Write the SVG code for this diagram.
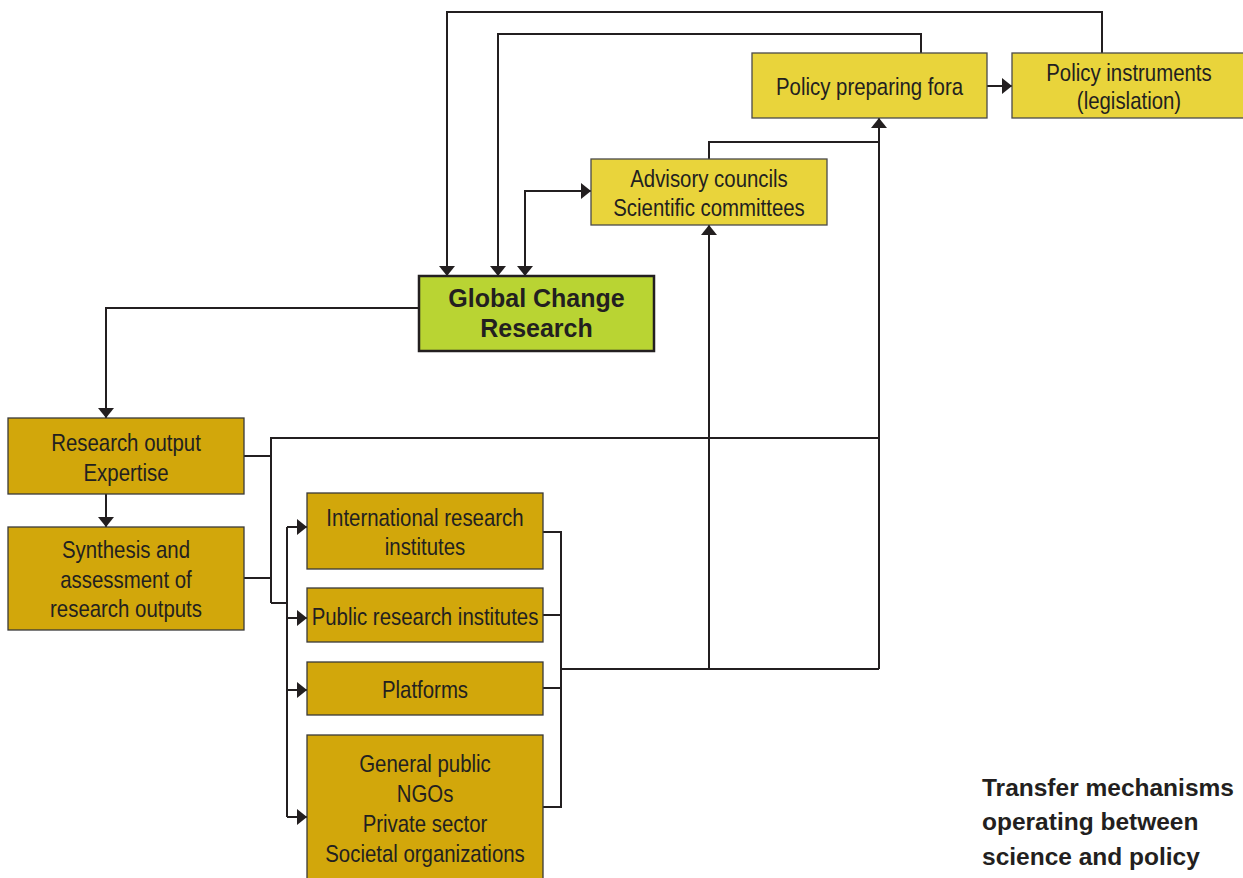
<svg xmlns="http://www.w3.org/2000/svg" width="1243" height="878" viewBox="0 0 1243 878">
<style>
.yb{fill:#e9d43b;stroke:#4a4a4a;stroke-width:1.3}
.gb{fill:#d2a70b;stroke:#3a3a3a;stroke-width:1.3}
.grn{fill:#b9d433;stroke:#231f20;stroke-width:2.5}
.t{font-family:"Liberation Sans",Arial,sans-serif;font-size:24px;fill:#231f20;text-anchor:middle}
.tb{font-family:"Liberation Sans",Arial,sans-serif;font-size:25px;font-weight:bold;fill:#231f20;text-anchor:middle}
.cap{font-family:"Liberation Sans",Arial,sans-serif;font-size:24.5px;font-weight:bold;fill:#231f20}
.c{fill:none;stroke:#231f20;stroke-width:2}
</style>
<defs>
<marker id="ah" markerUnits="userSpaceOnUse" markerWidth="11" markerHeight="16" refX="10" refY="8" orient="auto-start-reverse" viewBox="0 0 11 16">
<path d="M0,0 L10,8 L0,16 z" fill="#231f20"/>
</marker>
</defs>
<rect width="1243" height="878" fill="#ffffff"/>
<g id="connectors">
<path class="c" d="M1102,53 V12 H447 V276" marker-end="url(#ah)"/>
<path class="c" d="M921,53 V34 H498 V276" marker-end="url(#ah)"/>
<path class="c" d="M525,276 V191 H591" marker-start="url(#ah)" marker-end="url(#ah)"/>
<path class="c" d="M709,159 V142 H879"/>
<path class="c" d="M879,669 V118" marker-end="url(#ah)"/>
<path class="c" d="M709,669 V225" marker-end="url(#ah)"/>
<path class="c" d="M987,86 H1012" marker-end="url(#ah)"/>
<path class="c" d="M419,308 H106 V418" marker-end="url(#ah)"/>
<path class="c" d="M106,494 V527" marker-end="url(#ah)"/>
<path class="c" d="M244,456 H271"/>
<path class="c" d="M244,578 H271"/>
<path class="c" d="M271,603 V438 H879"/>
<path class="c" d="M271,603 H287"/>
<path class="c" d="M287,527 V817"/>
<path class="c" d="M287,527 H307" marker-end="url(#ah)"/>
<path class="c" d="M287,618 H307" marker-end="url(#ah)"/>
<path class="c" d="M287,690 H307" marker-end="url(#ah)"/>
<path class="c" d="M287,817 H307" marker-end="url(#ah)"/>
<path class="c" d="M543,532 H561 V807 H543"/>
<path class="c" d="M543,615 H561"/>
<path class="c" d="M543,688 H561"/>
<path class="c" d="M561,669 H879"/>
</g>
<g id="policy-preparing-fora">
<rect class="yb" x="752" y="53" width="235" height="65"/>
<text class="t" transform="translate(869.5 95) scale(0.85 1)">Policy preparing fora</text>
</g>
<g id="policy-instruments">
<rect class="yb" x="1012" y="53" width="232" height="65"/>
<text class="t" transform="translate(1129 81) scale(0.85 1)">Policy instruments</text>
<text class="t" transform="translate(1129 109) scale(0.85 1)">(legislation)</text>
</g>
<g id="advisory-councils">
<rect class="yb" x="591" y="159" width="236" height="66"/>
<text class="t" transform="translate(709 187) scale(0.85 1)">Advisory councils</text>
<text class="t" transform="translate(709 216) scale(0.85 1)">Scientific committees</text>
</g>
<g id="global-change-research">
<rect class="grn" x="419" y="276" width="235" height="75"/>
<text class="tb" x="536.5" y="307">Global Change</text>
<text class="tb" x="536.5" y="337">Research</text>
</g>
<g id="research-output">
<rect class="gb" x="8" y="418" width="236" height="76"/>
<text class="t" transform="translate(126 451) scale(0.85 1)">Research output</text>
<text class="t" transform="translate(126 481) scale(0.85 1)">Expertise</text>
</g>
<g id="synthesis">
<rect class="gb" x="8" y="527" width="236" height="103"/>
<text class="t" transform="translate(126 558) scale(0.85 1)">Synthesis and</text>
<text class="t" transform="translate(126 588) scale(0.85 1)">assessment of</text>
<text class="t" transform="translate(126 617) scale(0.85 1)">research outputs</text>
</g>
<g id="international-research-institutes">
<rect class="gb" x="307" y="493" width="236" height="76"/>
<text class="t" transform="translate(425 526) scale(0.85 1)">International research</text>
<text class="t" transform="translate(425 555) scale(0.85 1)">institutes</text>
</g>
<g id="public-research-institutes">
<rect class="gb" x="307" y="588" width="236" height="54"/>
<text class="t" transform="translate(425 625) scale(0.85 1)">Public research institutes</text>
</g>
<g id="platforms">
<rect class="gb" x="307" y="662" width="236" height="53"/>
<text class="t" transform="translate(425 698) scale(0.85 1)">Platforms</text>
</g>
<g id="general-public">
<rect class="gb" x="307" y="735" width="236" height="150"/>
<text class="t" transform="translate(425 772) scale(0.85 1)">General public</text>
<text class="t" transform="translate(425 802) scale(0.85 1)">NGOs</text>
<text class="t" transform="translate(425 832) scale(0.85 1)">Private sector</text>
<text class="t" transform="translate(425 862) scale(0.85 1)">Societal organizations</text>
</g>
<g id="caption">
<text class="cap" x="982" y="796">Transfer mechanisms</text>
<text class="cap" x="982" y="830">operating between</text>
<text class="cap" x="982" y="865">science and policy</text>
</g>
</svg>
